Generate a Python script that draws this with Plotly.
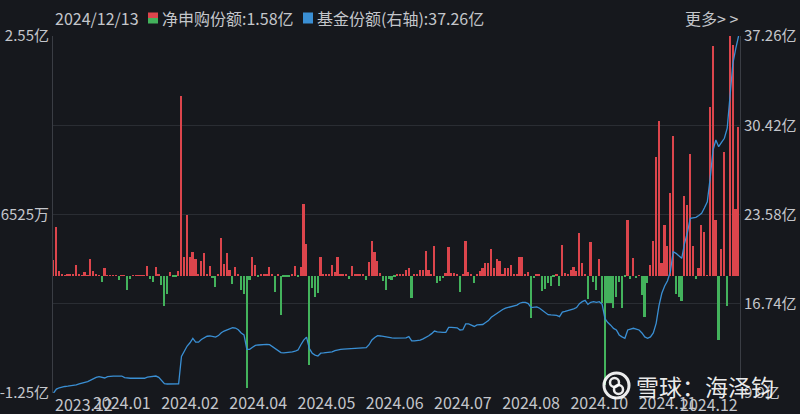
import plotly.graph_objects as go

# ---------------- data ----------------
latest_date = "2024/12/13"

# daily net subscription (亿份), one per trading day
net_flow = [
    0.166, 0.52, 0.05, 0.015, 0.005, 0.02, 0.02, 0.01, 0.11, 0.02,
    0.003, 0.04, 0.002, 0.18, 0.05, 0.02, 0.002, -0.065, 0.08, 0.003,
    0.003, 0.003, 0.003, -0.045, 0.003, 0.003, -0.15, -0.035, 0.003, 0.003,
    0.003, 0.003, 0.003, 0.1, -0.04, -0.07, 0.09, 0.02, -0.10, -0.32,
    -0.2, 0.04, -0.01, -0.01, 0.05, 1.91, 0.2, 0.65, 0.2, 0.25,
    0.18, 0.02, 0.15, 0.24, 0.01, 0.10, -0.03, -0.12, 0.01, 0.40,
    0.12, 0.24, 0.06, -0.09, 0.09, 0.01, -0.15, -0.20, -1.20, -0.05,
    0.20, 0.11, -0.02, 0.01, 0.01, 0.01, 0.09, 0.01, -0.18, 0.01,
    -0.42, -0.02, -0.02, -0.02, 0.01, 0.10, -0.02, 0.09, 0.76, 0.34,
    -0.95, -0.13, -0.23, -0.19, 0.20, 0.01, 0.02, 0.01, 0.11, 0.04,
    0.20, 0.01, 0.01, 0.01, -0.035, 0.10, 0.01, 0.01, 0.01, 0.01,
    -0.045, 0.14, 0.37, 0.25, 0.15, 0.03, -0.06, -0.15, -0.035, -0.045,
    -0.02, 0.01, 0.01, 0.01, 0.06, 0.08, -0.24, 0.01, 0.01, 0.06,
    0.06, 0.26, 0.06, 0.01, 0.32, -0.08, -0.06, -0.03, 0.025, 0.30,
    0.03, 0.03, 0.02, -0.18, 0.01, 0.37, 0.04, 0.01, -0.08,
    0.01, 0.05, 0.085, 0.13, 0.13, 0.28, 0.08, 0.18, 0.16, 0.01,
    0.08, 0.08, 0.11, 0.01, 0.01, 0.20, 0.195, 0.01, 0.04, -0.45,
    -0.03, 0.01, 0.01, -0.16, -0.14, -0.075, -0.11, -0.02, 0.01, -0.11,
    0.33, 0.025, 0.01, 0.06, 0.09, 0.05, 0.45, 0.13, 0.01, -0.25,
    0.36, -0.07, -0.15, 0.18, -0.29, -1.16, -0.29, -0.29, -0.35,
    -0.23, -0.07, -0.35, -0.015, 0.59, -0.04, 0.19, -0.025, 0.005, -0.21,
    -0.44, -0.075, 0.11, 0.37, 1.26, 1.64, 0.13, 0.54, 0.31, 0.88,
    1.49, -0.20, -0.23, -0.27, 0.85, 0.75, 1.29, 0.31, -0.04, 0.08,
    0.54, 0.46, 0.005, 1.79, 2.44, 0.59, -0.69, 0.28, 1.31, -0.32,
    2.55, 2.45, 0.71, 1.58,
]

# fund share (亿份), right axis
fund_share = [
    9.9, 10.2, 10.3, 10.38, 10.4, 10.42, 10.45, 10.5, 10.52, 10.6,
    10.68, 10.72, 10.77, 10.9, 11.03, 11.1, 11.15, 11.1, 11.05, 11.15,
    11.2, 11.2, 11.2, 11.21, 11.2, 11.08, 11.03, 11.03, 11.03, 11.02,
    11.03, 11.04, 11.03, 11.12, 11.15, 11.2, 11.2, 11.1, 10.85, 10.62,
    10.59, 10.59, 10.6, 10.6, 10.6, 12.7, 13.15, 13.5, 13.75, 14.09,
    13.8, 13.8, 14.0, 14.1, 14.25, 14.27, 14.22, 14.18, 14.3, 14.52,
    14.65, 14.75, 14.82, 14.9, 14.88, 14.75, 14.5, 14.35, 13.25, 13.25,
    13.4, 13.55, 13.58, 13.6, 13.6, 13.62, 13.6, 13.45, 13.3, 13.1,
    13.0, 12.98, 13.0, 13.0, 13.05, 13.1, 13.2, 13.6, 13.95, 14.18,
    13.3, 12.95, 12.8, 12.73, 12.95, 12.97, 12.98, 13.0, 13.05, 13.15,
    13.22, 13.25, 13.27, 13.28, 13.3, 13.3, 13.32, 13.33, 13.35, 13.36,
    13.37, 13.6, 13.96, 14.15, 14.29, 14.27, 14.22, 14.18, 14.15, 14.12,
    14.1, 14.1, 14.1, 14.1, 14.12, 14.22, 13.9, 13.9, 13.9, 13.95,
    14.05, 14.15, 14.29, 14.45, 14.65, 14.58, 14.55, 14.55, 14.55, 14.93,
    14.93, 14.93, 14.9, 14.73, 14.75, 15.19, 15.2, 15.1, 15.0,
    15.12, 15.12, 15.15, 15.3, 15.45, 15.7, 15.85, 16.05, 16.2, 16.3,
    16.4, 16.46, 16.52, 16.6, 16.64, 16.78, 16.85, 16.85, 16.75, 16.45,
    16.5, 16.5, 16.4, 16.22, 16.05, 15.9, 15.88, 15.86, 15.85, 15.75,
    16.1, 16.15, 16.2, 16.25, 16.35, 16.45, 16.75, 16.9, 17.0, 16.7,
    16.85, 16.9, 16.85, 16.9, 16.7, 15.6, 15.3, 15.1, 14.85,
    14.73, 14.35, 14.2, 14.09, 14.73, 14.8, 14.86, 14.8, 14.73, 14.5,
    14.2, 14.09, 14.2, 14.5, 15.24, 16.6, 17.54, 18.1, 18.5, 19.2,
    20.73, 20.6, 20.4, 20.22, 21.37, 22.2, 23.28, 23.32, 23.36, 23.5,
    23.67, 24.1, 24.56, 26.35, 28.5, 29.29, 28.78, 29.1, 29.42, 30.19,
    32.61, 35.17, 36.3, 37.26,
]

x_labels = ["2023.12", "2024.01", "2024.02", "2024.04", "2024.05", "2024.06",
            "2024.07", "2024.08", "2024.10", "2024.11", "2024.12"]
x_label_every = 24  # a label every 24 trading days

left_tick_vals = [2.55, 0.6525, -1.25]
left_tick_text = ["2.55亿", "6525万", "-1.25亿"]
right_tick_vals = [37.26, 30.42, 23.58, 16.74, 9.9]
right_tick_text = ["37.26亿", "30.42亿", "23.58亿", "16.74亿", "9.9亿"]

# ---------------- style ----------------
BG = "#16181d"
TXT = "#c4c6cb"
GRID = "#2a2d33"
AXL = "#3a3d44"
RED = "#dc454c"
GREEN = "#43b25c"
BLUE = "#3a8fd4"
FONT = "Noto Sans CJK SC, Noto Sans, sans-serif"

n = len(net_flow)
idx = list(range(n))
bar_colors = [RED if v >= 0 else GREEN for v in net_flow]

fig = go.Figure()
fig.add_trace(go.Bar(x=idx, y=net_flow, marker=dict(color=bar_colors, line=dict(width=0)),
                     width=0.6, yaxis="y", hoverinfo="skip", showlegend=False))
fig.add_trace(go.Scatter(x=idx, y=fund_share, mode="lines", line=dict(color=BLUE, width=1.3),
                         yaxis="y2", hoverinfo="skip", showlegend=False))

mid_ticks = [x_label_every * k for k in range(1, len(x_labels) - 1)]

X0, X1 = -0.2, n - 0.5
fig.update_layout(
    width=800, height=414,
    margin=dict(l=53, r=60, t=36, b=21),
    paper_bgcolor=BG, plot_bgcolor=BG,
    font=dict(family=FONT, color=TXT, size=16),
    bargap=0,
    xaxis=dict(range=[X0, X1], tickvals=mid_ticks, ticktext=x_labels[1:-1],
               showgrid=False, zeroline=False, showline=False, ticks="",
               tickfont=dict(size=16, color=TXT), automargin=False, ticklabelstandoff=-1),
    yaxis=dict(range=[left_tick_vals[-1], left_tick_vals[0]], tickvals=left_tick_vals,
               ticktext=left_tick_text, showgrid=False, zeroline=False,
               showline=True, linecolor=AXL, linewidth=1, ticks="",
               tickfont=dict(size=15, color=TXT), ticklabelstandoff=0, automargin=False),
    yaxis2=dict(range=[right_tick_vals[-1], right_tick_vals[0]], tickvals=right_tick_vals,
                ticktext=right_tick_text, overlaying="y", side="right",
                showgrid=True, gridcolor=GRID, gridwidth=1, zeroline=False,
                showline=True, linecolor=AXL, linewidth=1, ticks="",
                tickfont=dict(size=15, color=TXT), ticklabelstandoff=0, automargin=False),
)

def px2paper_x(px):
    return (px - 53) / 687.0

def px2paper_y(py):
    return (393 - py) / 357.0

ann = []
# first / last x labels anchored to the plot edges
ann.append(dict(x=X0, xref="x", y=px2paper_y(404), yref="paper", yanchor="middle", xanchor="left",
                text=x_labels[0], showarrow=False, font=dict(size=16, color=TXT)))
ann.append(dict(x=X1, xref="x", y=px2paper_y(404), yref="paper", yanchor="middle", xanchor="right",
                text=x_labels[-1], showarrow=False, font=dict(size=16, color=TXT)))
# header
hy = px2paper_y(18)
ann.append(dict(x=px2paper_x(53), xref="paper", y=hy, yref="paper", xanchor="left", yanchor="middle",
                text=latest_date, showarrow=False, font=dict(size=16, color=TXT)))
ann.append(dict(x=px2paper_x(160), xref="paper", y=hy, yref="paper", xanchor="left", yanchor="middle",
                text=f"净申购份额:{net_flow[-1]:.2f}亿", showarrow=False, font=dict(size=16, color=TXT)))
ann.append(dict(x=px2paper_x(315), xref="paper", y=hy, yref="paper", xanchor="left", yanchor="middle",
                text=f"基金份额(右轴):{fund_share[-1]:.2f}亿", showarrow=False, font=dict(size=16, color=TXT)))
ann.append(dict(x=px2paper_x(740), xref="paper", y=hy, yref="paper", xanchor="right", yanchor="middle",
                text="更多&gt; &gt;", showarrow=False, font=dict(size=16, color=TXT)))
# watermark
ann.append(dict(x=px2paper_x(634), xref="paper", y=px2paper_y(386), yref="paper", xanchor="left",
                yanchor="middle", text="雪球：海泽钧", showarrow=False,
                font=dict(size=23, color="rgba(255,255,255,0.92)")))
fig.update_layout(annotations=ann)

shapes = []
# legend squares
shapes.append(dict(type="rect", xref="paper", yref="paper",
                   x0=px2paper_x(148), x1=px2paper_x(158), y0=px2paper_y(12.5), y1=px2paper_y(18),
                   fillcolor=RED, line=dict(width=0)))
shapes.append(dict(type="rect", xref="paper", yref="paper",
                   x0=px2paper_x(148), x1=px2paper_x(158), y0=px2paper_y(18), y1=px2paper_y(23.5),
                   fillcolor=GREEN, line=dict(width=0)))
shapes.append(dict(type="rect", xref="paper", yref="paper",
                   x0=px2paper_x(303), x1=px2paper_x(313), y0=px2paper_y(12.5), y1=px2paper_y(23.5),
                   fillcolor=BLUE, line=dict(width=0)))
# watermark logo (circle)
shapes.append(dict(type="circle", xref="paper", yref="paper",
                   x0=px2paper_x(604), x1=px2paper_x(629), y0=px2paper_y(373), y1=px2paper_y(398),
                   fillcolor="rgba(0,0,0,0)", line=dict(color="rgba(255,255,255,0.92)", width=3)))
shapes.append(dict(type="circle", xref="paper", yref="paper",
                   x0=px2paper_x(610), x1=px2paper_x(619), y0=px2paper_y(378), y1=px2paper_y(387),
                   fillcolor="rgba(0,0,0,0)", line=dict(color="rgba(255,255,255,0.92)", width=2.5)))
shapes.append(dict(type="circle", xref="paper", yref="paper",
                   x0=px2paper_x(614), x1=px2paper_x(623), y0=px2paper_y(385), y1=px2paper_y(394),
                   fillcolor="rgba(0,0,0,0)", line=dict(color="rgba(255,255,255,0.92)", width=2.5)))
fig.update_layout(shapes=shapes)

fig.write_html("out.html", config={"displayModeBar": False},
               post_script="document.body.style.margin='0px';document.body.style.overflow='hidden';"
                           "document.body.style.background='" + BG + "';")
